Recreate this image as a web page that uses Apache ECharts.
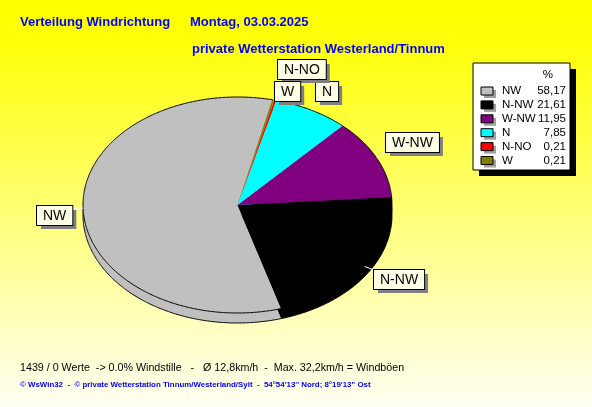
<!DOCTYPE html>
<html><head><meta charset="utf-8">
<script src="https://cdn.jsdelivr.net/npm/echarts@6/dist/echarts.min.js"></script>
<style>html,body{margin:0;padding:0;}#c{width:592px;height:407px;}</style>
</head><body><div id="c"></div>
<script>
// ---- data ----
const categories = ['NW', 'N-NW', 'W-NW', 'N', 'N-NO', 'W'];
const percentValues = [58.17, 21.61, 11.95, 7.85, 0.21, 0.21];
const percentLabels = ['58,17', '21,61', '11,95', '7,85', '0,21', '0,21'];
const titleLine1a = 'Verteilung Windrichtung';
const titleLine1b = 'Montag, 03.03.2025';
const titleLine2 = 'private Wetterstation Westerland/Tinnum';
const infoLine = '1439 / 0 Werte  -> 0.0% Windstille   -   Ø 12,8km/h  -  Max. 32,2km/h = Windböen';
const footerLine = '© WsWin32  -  © private Wetterstation Tinnum/Westerland/Sylt  -  54°54\'13\'\' Nord; 8°19\'13\'\' Ost';

// ---- styles / layout ----
const sliceColors = ['#c0c0c0', '#000000', '#800080', '#00ffff', '#ff0000', '#808000'];
const PIE = { cx: 237.5, cy: 205, rx: 154.5, ry: 108, depth: 10, startDeg: -77 };
const labelBoxes = { 'NW': [37, 206], 'N-NW': [374, 270], 'W-NW': [386, 133], 'N': [316, 82], 'W': [275, 82], 'N-NO': [278, 60] };
const LABEL_FONT = '14px "Liberation Sans", Arial, sans-serif';
const LABEL_PAD = [3, 6, 2, 6];
const LEG_FONT = '11.5px "Liberation Sans", Arial, sans-serif';
const LEG = { x: 473, y: 63, w: 97, h: 107, rowY0: 91, rowStep: 13.9, swX: 481, nameX: 502, valX: 566 };

const total = percentValues.reduce((a, b) => a + b, 0);
function sliceRange(i) {
  let a = PIE.startDeg;
  for (let k = 0; k < i; k++) a -= percentValues[k] / total * 360;
  return [a - percentValues[i] / total * 360, a];
}
function pt(deg, off) {
  const r = deg * Math.PI / 180;
  return [PIE.cx + PIE.rx * Math.cos(r), PIE.cy + off + PIE.ry * Math.sin(r)];
}
function arc(a0, a1, off) {
  const n = Math.max(2, Math.ceil(Math.abs(a1 - a0) / 0.5) + 1);
  const pts = [];
  for (let k = 0; k < n; k++) pts.push(pt(a0 + (a1 - a0) * k / (n - 1), off));
  return pts;
}
const mctx = document.createElement('canvas').getContext('2d');
function textW(t, font) { mctx.font = font; return mctx.measureText(t).width; }

const seriesData = percentValues.map((v, i) => ({ name: categories[i], value: v }));

function renderWall(params) {
  const i = params.dataIndex;
  const [a0, a1] = sliceRange(i);
  const pts = arc(a0, a1, PIE.depth);
  return { type: 'group', children: [
    { type: 'polygon', shape: { points: [[PIE.cx, PIE.cy + PIE.depth]].concat(pts) }, style: { fill: sliceColors[i] } },
    { type: 'polyline', shape: { points: pts }, style: { stroke: '#000', lineWidth: 1, fill: null } }
  ] };
}
function renderTop(params) {
  const i = params.dataIndex;
  const [a0, a1] = sliceRange(i);
  const pts = arc(a0, a1, 0);
  return { type: 'group', children: [
    { type: 'polygon', shape: { points: [[PIE.cx, PIE.cy]].concat(pts) }, style: { fill: sliceColors[i] } },
    { type: 'polyline', shape: { points: pts }, style: { stroke: '#000', lineWidth: 1, fill: null } }
  ] };
}
function renderLabel(params) {
  const i = params.dataIndex;
  const name = categories[i];
  const [a0, a1] = sliceRange(i);
  const e = pt((a0 + a1) / 2, 0);
  const [bx, by] = labelBoxes[name];
  const bw = textW(name, LABEL_FONT) + LABEL_PAD[1] + LABEL_PAD[3];
  const bh = 14 + LABEL_PAD[0] + LABEL_PAD[2];
  const cx = Math.min(Math.max(e[0], bx), bx + bw);
  const cy = Math.min(Math.max(e[1], by), by + bh);
  const txt = (dx, dy, fill, bg, border) => ({
    type: 'text', x: bx + dx, y: by + dy,
    style: { text: name, font: LABEL_FONT, fill: fill, align: 'left', verticalAlign: 'top',
      backgroundColor: bg, borderColor: border, borderWidth: border ? 1 : 0, padding: LABEL_PAD }
  });
  return { type: 'group', children: [
    { type: 'line', shape: { x1: e[0], y1: e[1], x2: cx, y2: cy }, style: { stroke: '#ffffff', lineWidth: 1 } },
    txt(4, 4, 'rgba(0,0,0,0)', '#808080', null),
    txt(0, 0, '#000', '#ffffe6', '#000')
  ] };
}

// legend graphics
const legendEls = [
  { type: 'rect', shape: { x: LEG.x + 6, y: LEG.y + 6, width: LEG.w, height: LEG.h }, style: { fill: '#000' } },
  { type: 'rect', shape: { x: LEG.x, y: LEG.y, width: LEG.w, height: LEG.h }, style: { fill: '#ffffff', stroke: '#000', lineWidth: 1 } },
  { type: 'text', x: 553, y: 75, style: { text: '%', font: LEG_FONT, fill: '#000', align: 'right', verticalAlign: 'middle' } }
];
categories.forEach((c, i) => {
  const y = LEG.rowY0 + i * LEG.rowStep;
  legendEls.push(
    { type: 'rect', shape: { x: LEG.swX + 3, y: y - 4 + 3, width: 12, height: 8 }, style: { fill: '#a0a0a0' } },
    { type: 'rect', shape: { x: LEG.swX, y: y - 4, width: 12, height: 8 }, style: { fill: sliceColors[i], stroke: '#000', lineWidth: 1 } },
    { type: 'text', x: LEG.nameX, y: y, style: { text: c, font: LEG_FONT, fill: '#000', align: 'left', verticalAlign: 'middle' } },
    { type: 'text', x: LEG.valX, y: y, style: { text: percentLabels[i], font: LEG_FONT, fill: '#000', align: 'right', verticalAlign: 'middle' } }
  );
});

const chart = echarts.init(document.getElementById('c'), null, { renderer: 'canvas' });
chart.setOption({
  animation: false,
  backgroundColor: { type: 'linear', x: 0, y: 0, x2: 0, y2: 1, colorStops: [
    { offset: 0, color: '#ffff00' }, { offset: 0.1, color: '#ffff08' }, { offset: 1, color: '#fffff4' } ] },
  graphic: [
    { type: 'text', left: 20, top: 16, style: { text: titleLine1a, font: 'bold 13px "Liberation Sans", Arial, sans-serif', fill: '#0000ff' } },
    { type: 'text', left: 190, top: 16, style: { text: titleLine1b, font: 'bold 13px "Liberation Sans", Arial, sans-serif', fill: '#0000ff' } },
    { type: 'text', left: 192, top: 43, style: { text: titleLine2, font: 'bold 13px "Liberation Sans", Arial, sans-serif', fill: '#0000ff' } },
    { type: 'text', left: 20, top: 363, style: { text: infoLine, font: '10.7px "Liberation Sans", Arial, sans-serif', fill: '#000' } },
    { type: 'text', left: 20, top: 381, style: { text: footerLine, font: 'bold 7.9px "Liberation Sans", Arial, sans-serif', fill: '#0000ff' } },
    { type: 'group', left: 0, top: 0, bounding: 'raw', children: legendEls }
  ],
  series: [
    { type: 'custom', coordinateSystem: 'none', renderItem: renderWall, data: seriesData, z: 1, silent: true },
    { type: 'custom', coordinateSystem: 'none', renderItem: renderTop, data: seriesData, z: 2, silent: true },
    { type: 'custom', coordinateSystem: 'none', renderItem: renderLabel, data: seriesData, z: 3, silent: true }
  ]
});
</script>
</body></html>
